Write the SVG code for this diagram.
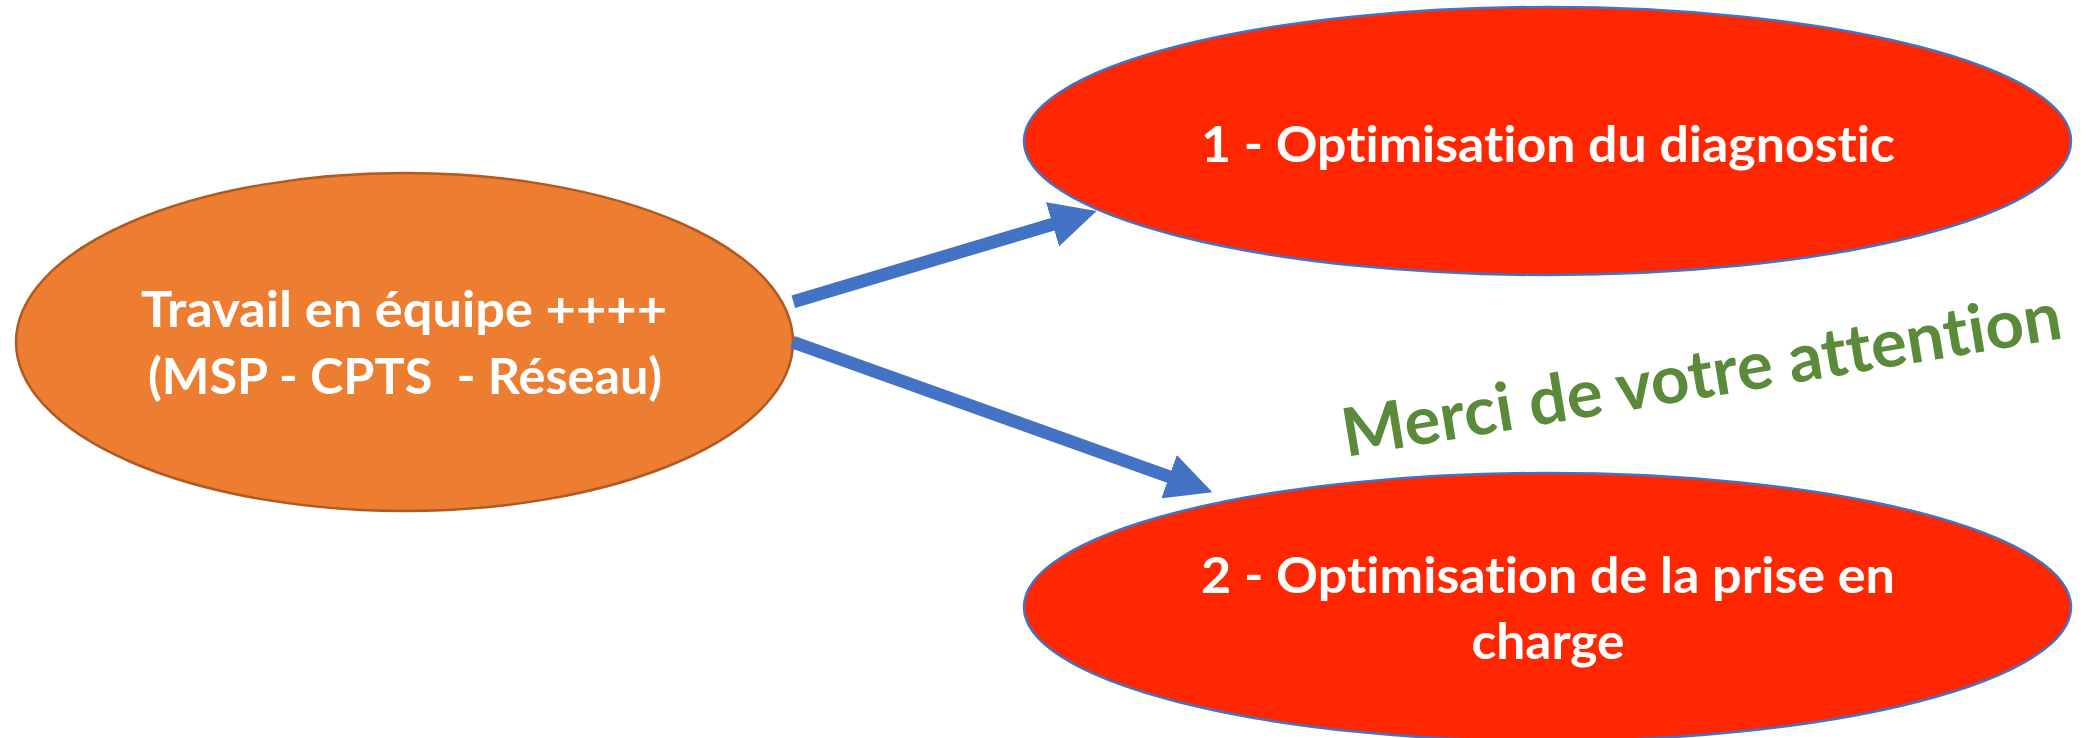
<svg xmlns="http://www.w3.org/2000/svg" width="2088" height="738" viewBox="0 0 2088 738">
<style>
text{font-variant-ligatures:none;font-feature-settings:"liga" 0,"clig" 0}
.lbl{font-family:Lato,"Open Sans","Liberation Sans",sans-serif;font-weight:700;fill:#ffffff;font-size:50px;text-anchor:middle}
.red{fill:#FF2600;stroke:#4472C4;stroke-width:2.5}
.conn{stroke:#4472C4;stroke-width:13;fill:none}
</style>
<defs>
<marker id="ah" markerUnits="userSpaceOnUse" viewBox="0 0 46 46" markerWidth="46" markerHeight="46" refX="1" refY="23" orient="auto">
<path d="M0,0 L46,23 L0,46 z" fill="#4472C4"/>
</marker>
</defs>
<rect width="2088" height="738" fill="#ffffff"/>
<g id="node-travail">
<ellipse cx="404.5" cy="342" rx="388.5" ry="169" fill="#ED7D31" stroke="#AE5A21" stroke-width="2.5"/>
<text class="lbl" x="404" y="327" textLength="526" lengthAdjust="spacingAndGlyphs">Travail en équipe ++++</text>
<text class="lbl" x="405" y="394" textLength="514" lengthAdjust="spacingAndGlyphs" xml:space="preserve">(MSP - CPTS  - Réseau)</text>
</g>
<g id="node-diagnostic">
<ellipse class="red" cx="1547.5" cy="141" rx="523.5" ry="134"/>
<text class="lbl" x="1548" y="162" textLength="694" lengthAdjust="spacingAndGlyphs">1 - Optimisation du diagnostic</text>
</g>
<g id="node-prise">
<ellipse class="red" cx="1547.5" cy="607" rx="523.5" ry="134"/>
<text class="lbl" x="1548" y="593" textLength="694" lengthAdjust="spacingAndGlyphs">2 - Optimisation de la prise en</text>
<text class="lbl" x="1548" y="659" textLength="153" lengthAdjust="spacingAndGlyphs">charge</text>
</g>
<g id="connectors">
<line class="conn" x1="793.3" y1="301.7" x2="1053.5" y2="224" marker-end="url(#ah)"/>
<line class="conn" x1="792.5" y1="342" x2="1170" y2="477" marker-end="url(#ah)"/>
</g>
<g id="thanks">
<text transform="translate(1346,457) rotate(-9.4)" x="0" y="0" textLength="728" lengthAdjust="spacingAndGlyphs" style="font-family:Lato,'Open Sans','Liberation Sans',sans-serif;font-weight:700;font-size:67px;fill:#5B8A3A">Merci de votre attention</text>
</g>
</svg>
